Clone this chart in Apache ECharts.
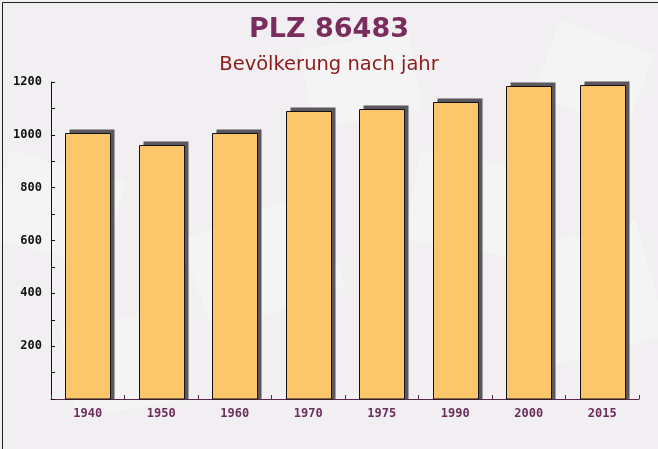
<!DOCTYPE html>
<html><head><meta charset="utf-8">
<script src="https://cdn.jsdelivr.net/npm/echarts@6/dist/echarts.min.js"></script>
<style>html,body{margin:0;padding:0;background:#f1eff1}#c{width:658px;height:449px}</style>
</head><body><div id="c"></div>
<script>
var categories = ['1940','1950','1960','1970','1975','1990','2000','2015'];
var population = [1006, 961, 1008, 1090, 1097, 1124, 1185, 1188];
var titleText = 'PLZ 86483';
var subtitleText = 'Bevölkerung nach jahr';

var chart = echarts.init(document.getElementById('c'));
var deco = [];
var shapes = [[10,150,120,90,-15],[180,240,140,100,20],[420,150,130,90,-10],[520,250,120,120,15],[300,50,110,80,10],[560,20,100,80,-20],[60,330,110,90,10]];
shapes.forEach(function(s){
  deco.push({type:'rect', x:s[0], y:s[1], rotation:s[4]*Math.PI/180, shape:{width:s[2],height:s[3]}, style:{fill:'rgba(255,255,255,0.3)'}, z:-10, silent:true});
});
deco.push({type:'rect', left:0, top:0, shape:{width:657,height:448}, style:{fill:'none', stroke:'#222', lineWidth:1}, z:100, silent:true});

var BW = 45, OFF = 4;
function renderBar(params, api){
  var idx = api.value(0);
  var top = api.coord([idx, api.value(1)]);
  var base = api.coord([idx, 0]);
  var x = Math.round(top[0] - BW/2) + 0.5;
  var y = Math.round(top[1]) + 0.5;
  var y0 = base[1];
  return {type:'group', children:[
    {type:'rect', shape:{x:x+OFF, y:y-OFF, width:BW, height:y0-(y-OFF)}, style:{fill:'#5b575c'}},
    {type:'rect', shape:{x:x, y:y, width:BW, height:y0-y}, style:{fill:'#fcc76a', stroke:'#111', lineWidth:1}}
  ]};
}

chart.setOption({
  backgroundColor:'#f1eff1',
  animation:false,
  graphic: deco,
  title:[{text:titleText, left:'center', top:11, textStyle:{fontFamily:'DejaVu Sans', fontWeight:'bold', fontSize:27, color:'#7a2c5c'}},
         {text:subtitleText, left:'center', top:50, textStyle:{fontFamily:'DejaVu Sans', fontWeight:'normal', fontSize:19.5, color:'#8b1a1a'}}],
  grid:{left:51, right:19, top:82, bottom:50},
  xAxis:{type:'category', data:categories,
    axisLine:{lineStyle:{color:'#5a2848', width:1}},
    axisTick:{show:true, inside:true, length:4, lineStyle:{color:'#5a2848'}},
    axisLabel:{fontFamily:'DejaVu Sans Mono', fontWeight:'bold', fontSize:12, color:'#6b2d5b', margin:9}},
  yAxis:{type:'value', min:0, max:1200, interval:100,
    splitLine:{show:false},
    axisLine:{show:true, lineStyle:{color:'#111'}},
    axisTick:{show:true, inside:true, length:4, lineStyle:{color:'#111'}},
    axisLabel:{fontFamily:'DejaVu Sans Mono', fontWeight:'bold', fontSize:12, color:'#111', margin:9,
      formatter:function(v){return (v>0 && v%200===0)? String(v) : '';}}},
  series:[{type:'custom', renderItem:renderBar, encode:{x:0, y:1},
    data: population.map(function(v,i){return [i, v];}), z:2}]
});
</script></body></html>
